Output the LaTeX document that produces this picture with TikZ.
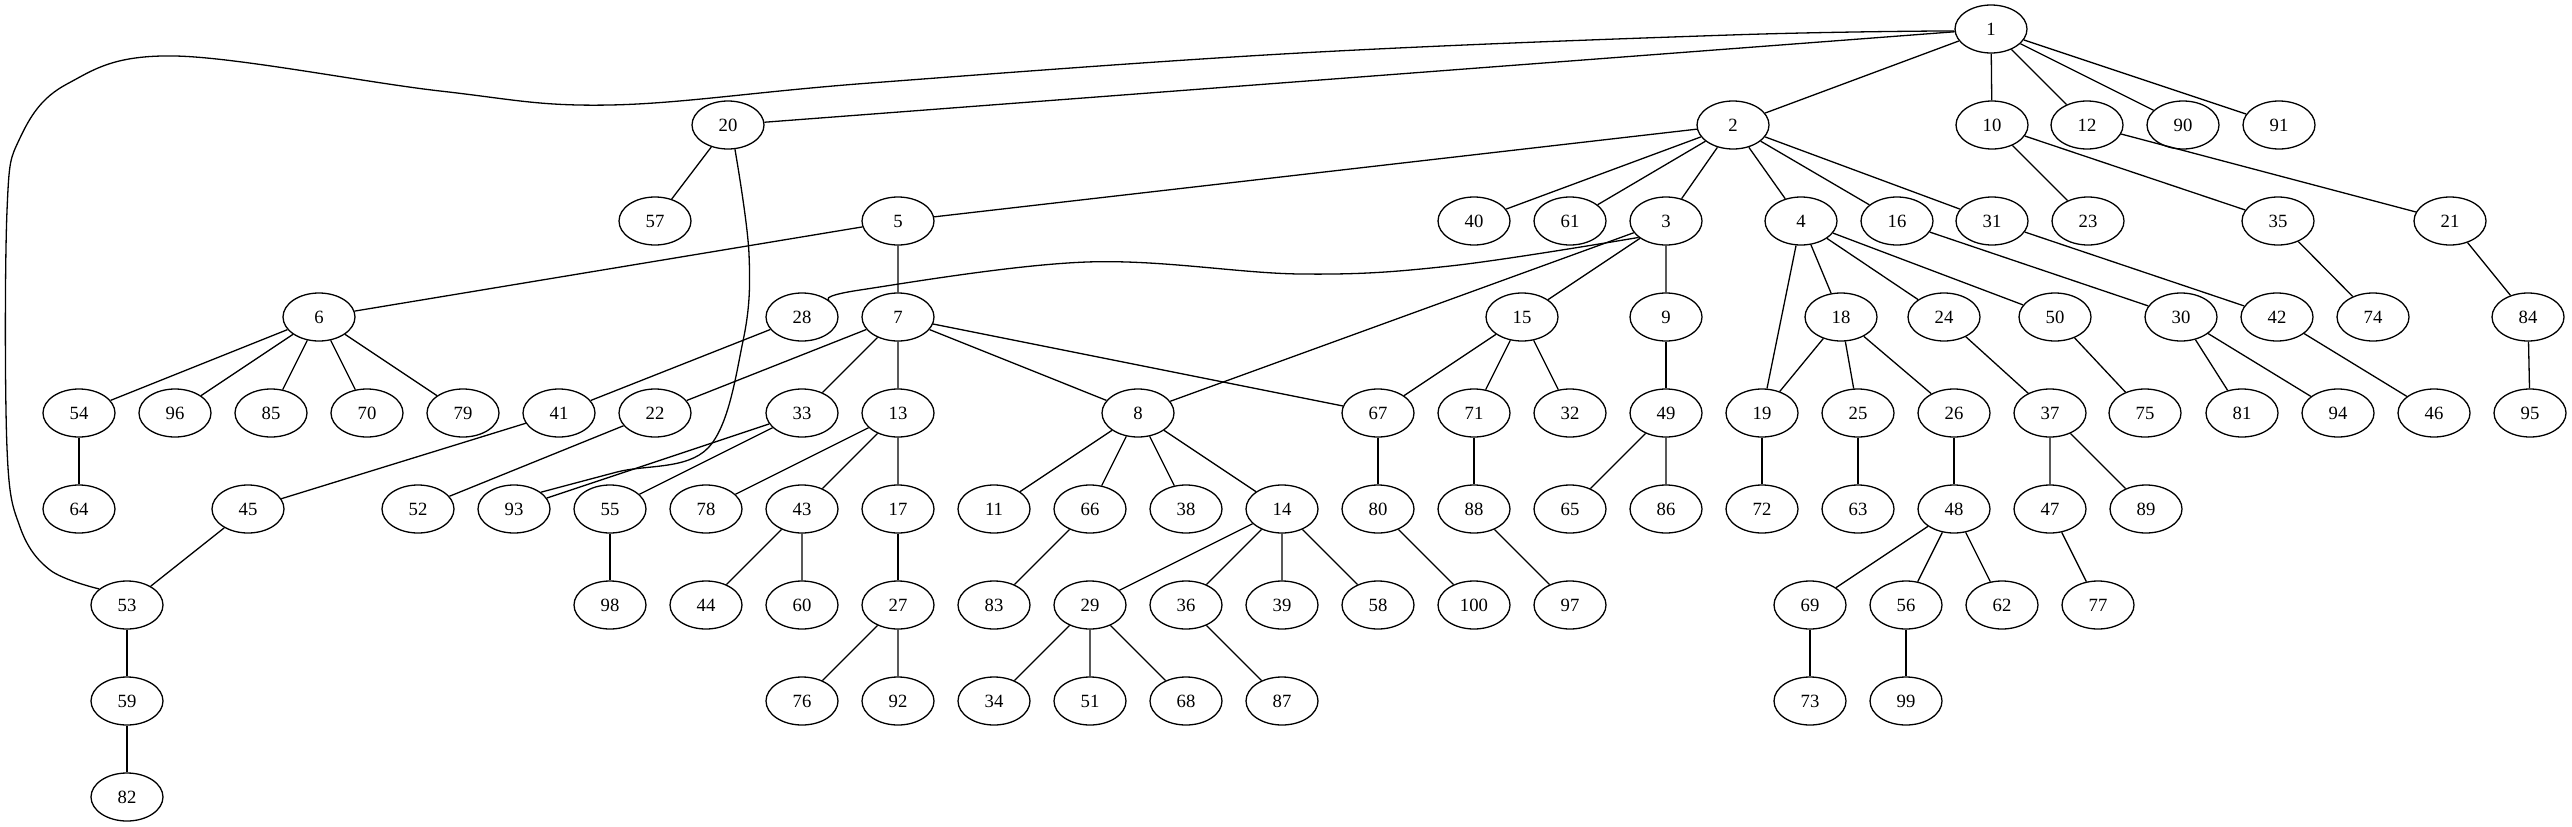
\documentclass[tikz,border=0pt]{standalone}
\usepackage{fontspec}
\setmainfont{Liberation Serif}
\usetikzlibrary{shapes.geometric}

\begin{document}
\begin{tikzpicture}[x=1pt,y=-1pt,line width=1.3pt,
  vx/.style={draw,ellipse,minimum width=72pt,minimum height=48pt,inner sep=0pt,font=\fontsize{18.7}{20}\selectfont}]
\useasboundingbox (0,0) rectangle (2572,827);

% row 1
\node[vx] (n1) at (1991,29) {1};
% row 2
\node[vx] (n20) at (728,125) {20};
\node[vx] (n2) at (1733,125) {2};
\node[vx] (n10) at (1992,125) {10};
\node[vx] (n12) at (2087,125) {12};
\node[vx] (n90) at (2183,125) {90};
\node[vx] (n91) at (2279,125) {91};
% row 3
\node[vx] (n57) at (655,221) {57};
\node[vx] (n5) at (898,221) {5};
\node[vx] (n40) at (1474,221) {40};
\node[vx] (n61) at (1570,221) {61};
\node[vx] (n3) at (1666,221) {3};
\node[vx] (n4) at (1801,221) {4};
\node[vx] (n16) at (1897,221) {16};
\node[vx] (n31) at (1992,221) {31};
\node[vx] (n23) at (2088,221) {23};
\node[vx] (n35) at (2278,221) {35};
\node[vx] (n21) at (2450,221) {21};
% row 4
\node[vx] (n6) at (319,317) {6};
\node[vx] (n28) at (802,317) {28};
\node[vx] (n7) at (898,317) {7};
\node[vx] (n15) at (1522,317) {15};
\node[vx] (n9) at (1666,317) {9};
\node[vx] (n18) at (1841,317) {18};
\node[vx] (n24) at (1944,317) {24};
\node[vx] (n50) at (2055,317) {50};
\node[vx] (n30) at (2181,317) {30};
\node[vx] (n42) at (2277,317) {42};
\node[vx] (n74) at (2373,317) {74};
\node[vx] (n84) at (2528,317) {84};
% row 5
\node[vx] (n54) at (79,413) {54};
\node[vx] (n96) at (175,413) {96};
\node[vx] (n85) at (271,413) {85};
\node[vx] (n70) at (367,413) {70};
\node[vx] (n79) at (463,413) {79};
\node[vx] (n41) at (559,413) {41};
\node[vx] (n22) at (655,413) {22};
\node[vx] (n33) at (802,413) {33};
\node[vx] (n13) at (898,413) {13};
\node[vx] (n8) at (1138,413) {8};
\node[vx] (n67) at (1378,413) {67};
\node[vx] (n71) at (1474,413) {71};
\node[vx] (n32) at (1570,413) {32};
\node[vx] (n49) at (1666,413) {49};
\node[vx] (n19) at (1762,413) {19};
\node[vx] (n25) at (1858,413) {25};
\node[vx] (n26) at (1954,413) {26};
\node[vx] (n37) at (2050,413) {37};
\node[vx] (n75) at (2145,413) {75};
\node[vx] (n81) at (2242,413) {81};
\node[vx] (n94) at (2338,413) {94};
\node[vx] (n46) at (2434,413) {46};
\node[vx] (n95) at (2530,413) {95};
% row 6
\node[vx] (n64) at (79,509) {64};
\node[vx] (n45) at (248,509) {45};
\node[vx] (n52) at (418,509) {52};
\node[vx] (n93) at (514,509) {93};
\node[vx] (n55) at (610,509) {55};
\node[vx] (n78) at (706,509) {78};
\node[vx] (n43) at (802,509) {43};
\node[vx] (n17) at (898,509) {17};
\node[vx] (n11) at (994,509) {11};
\node[vx] (n66) at (1090,509) {66};
\node[vx] (n38) at (1186,509) {38};
\node[vx] (n14) at (1282,509) {14};
\node[vx] (n80) at (1378,509) {80};
\node[vx] (n88) at (1474,509) {88};
\node[vx] (n65) at (1570,509) {65};
\node[vx] (n86) at (1666,509) {86};
\node[vx] (n72) at (1762,509) {72};
\node[vx] (n63) at (1858,509) {63};
\node[vx] (n48) at (1954,509) {48};
\node[vx] (n47) at (2050,509) {47};
\node[vx] (n89) at (2146,509) {89};
% row 7
\node[vx] (n53) at (127,605) {53};
\node[vx] (n98) at (610,605) {98};
\node[vx] (n44) at (706,605) {44};
\node[vx] (n60) at (802,605) {60};
\node[vx] (n27) at (898,605) {27};
\node[vx] (n83) at (994,605) {83};
\node[vx] (n29) at (1090,605) {29};
\node[vx] (n36) at (1186,605) {36};
\node[vx] (n39) at (1282,605) {39};
\node[vx] (n58) at (1378,605) {58};
\node[vx] (n100) at (1474,605) {100};
\node[vx] (n97) at (1570,605) {97};
\node[vx] (n69) at (1810,605) {69};
\node[vx] (n56) at (1906,605) {56};
\node[vx] (n62) at (2002,605) {62};
\node[vx] (n77) at (2098,605) {77};
% row 8
\node[vx] (n59) at (127,701) {59};
\node[vx] (n76) at (802,701) {76};
\node[vx] (n92) at (898,701) {92};
\node[vx] (n34) at (994,701) {34};
\node[vx] (n51) at (1090,701) {51};
\node[vx] (n68) at (1186,701) {68};
\node[vx] (n87) at (1282,701) {87};
\node[vx] (n73) at (1810,701) {73};
\node[vx] (n99) at (1906,701) {99};
% row 9
\node[vx] (n82) at (127,797) {82};

% edges
\draw (n1) -- (n2) (n1) -- (n10) (n1) -- (n12) (n1) -- (n90) (n1) -- (n91) (n1) -- (n20);
\draw (n2) -- (n5) (n2) -- (n40) (n2) -- (n61) (n2) -- (n3) (n2) -- (n4) (n2) -- (n16) (n2) -- (n31);
\draw (n3) -- (n8) (n3) -- (n15) (n3) -- (n9);
\draw (n4) -- (n19) (n4) -- (n18) (n4) -- (n24) (n4) -- (n50);
\draw (n5) -- (n6) (n5) -- (n7);
\draw (n6) -- (n54) (n6) -- (n96) (n6) -- (n85) (n6) -- (n70) (n6) -- (n79);
\draw (n7) -- (n22) (n7) -- (n33) (n7) -- (n13) (n7) -- (n8) (n7) -- (n67);
\draw (n8) -- (n11) (n8) -- (n66) (n8) -- (n38) (n8) -- (n14);
\draw (n9) -- (n49);
\draw (n10) -- (n23) (n10) -- (n35);
\draw (n12) -- (n21);
\draw (n13) -- (n78) (n13) -- (n43) (n13) -- (n17);
\draw (n14) -- (n29) (n14) -- (n36) (n14) -- (n39) (n14) -- (n58);
\draw (n15) -- (n67) (n15) -- (n71) (n15) -- (n32);
\draw (n16) -- (n30);
\draw (n17) -- (n27);
\draw (n18) -- (n19) (n18) -- (n25) (n18) -- (n26);
\draw (n19) -- (n72);
\draw (n20) -- (n57);
\draw (n21) -- (n84);
\draw (n22) -- (n52);
\draw (n24) -- (n37);
\draw (n25) -- (n63);
\draw (n26) -- (n48);
\draw (n27) -- (n76) (n27) -- (n92);
\draw (n28) -- (n41);
\draw (n29) -- (n34) (n29) -- (n51) (n29) -- (n68);
\draw (n30) -- (n81) (n30) -- (n94);
\draw (n31) -- (n42);
\draw (n33) -- (n93) (n33) -- (n55);
\draw (n35) -- (n74);
\draw (n36) -- (n87);
\draw (n37) -- (n47) (n37) -- (n89);
\draw (n41) -- (n45);
\draw (n42) -- (n46);
\draw (n43) -- (n44) (n43) -- (n60);
\draw (n45) -- (n53);
\draw (n47) -- (n77);
\draw (n48) -- (n69) (n48) -- (n56) (n48) -- (n62);
\draw (n49) -- (n65) (n49) -- (n86);
\draw (n50) -- (n75);
\draw (n53) -- (n59);
\draw (n54) -- (n64);
\draw (n55) -- (n98);
\draw (n56) -- (n99);
\draw (n59) -- (n82);
\draw (n66) -- (n83);
\draw (n67) -- (n80);
\draw (n69) -- (n73);
\draw (n71) -- (n88);
\draw (n80) -- (n100);
\draw (n84) -- (n95);
\draw (n88) -- (n97);

% long curved edges
\draw plot[smooth, tension=.6] coordinates {(n1.183) (1730,35) (1300,53) (870,83) (610,105) (440,91) (175,56) (67,84) (20,138) (7,211) (7,448) (20,527) (50,570) (n53.150)};
\draw plot[smooth, tension=.6] coordinates {(n20.286) (749,254) (743,341) (708,448) (617,472) (n93.32)};
\draw plot[smooth, tension=.6] coordinates {(n3.211) (1450,266) (1300,274) (1087,262) (860,290) (n28.31)};
\end{tikzpicture}
\end{document}
